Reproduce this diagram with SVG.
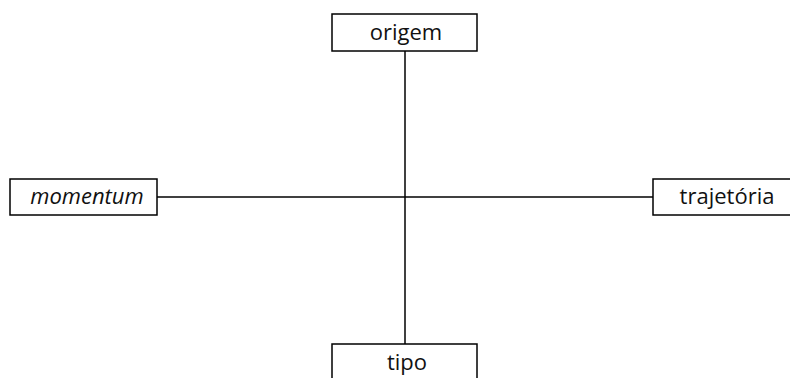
<svg xmlns="http://www.w3.org/2000/svg" width="790" height="378" viewBox="0 0 790 378">
<style>
.box{fill:#fff;stroke:#000;stroke-width:1.5}
.lbl{font-family:"Open Sans","Liberation Sans",sans-serif;font-size:22px;fill:#111;text-anchor:middle}
.con{stroke:#000;stroke-width:1.5;fill:none}
</style>
<rect width="790" height="378" fill="#fff"/>
<g id="connectors">
<line class="con" x1="405" y1="51" x2="405" y2="344"/>
<line class="con" x1="157" y1="197" x2="653" y2="197"/>
</g>
<g id="origem">
<rect class="box" x="332" y="14" width="145" height="37"/>
<text class="lbl" x="406" y="40">origem</text>
</g>
<g id="momentum">
<rect class="box" x="10" y="179" width="147" height="36"/>
<text class="lbl" x="87" y="204" font-style="italic">momentum</text>
</g>
<g id="trajetoria">
<rect class="box" x="653" y="179" width="145" height="36"/>
<text class="lbl" x="727" y="204">trajetória</text>
</g>
<g id="tipo">
<rect class="box" x="332" y="344" width="145" height="40"/>
<text class="lbl" x="407" y="370">tipo</text>
</g>
</svg>
